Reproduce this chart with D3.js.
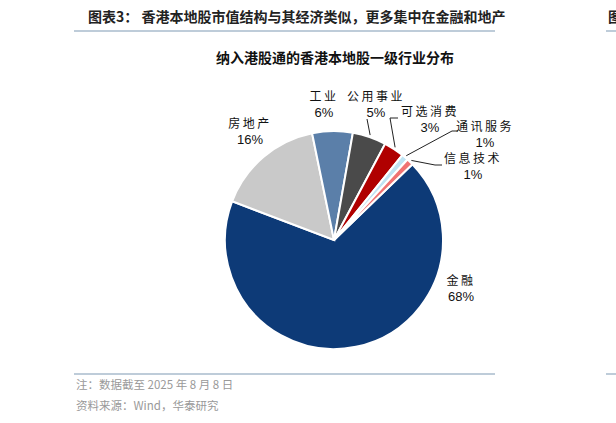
<!DOCTYPE html>
<html><head><meta charset="utf-8">
<script src="https://cdn.jsdelivr.net/npm/d3@7"></script>
<style>body{margin:0;background:#fff;font-family:"Noto Sans CJK SC",sans-serif}</style>
</head><body><svg id="c" width="616" height="423"></svg>
<script>
// data
const sectors = ['金融', '房地产', '工业', '公用事业', '可选消费', '通讯服务', '信息技术'];
const shares = [68, 16, 6, 5, 3, 1, 1];
const colors = ['#0d3a77', '#c9c9c9', '#5b7fa9', '#4a4a4a', '#b00000', '#bfe3f3', '#f07272'];

// label layout [x, y, leader elbow points]
const labelPos = [
  [461, 285, null], [250, 128, null], [324, 101, null],
  [376, 101, [367, 119]], [430, 116, [390, 118, 398, 118]],
  [485, 131, [452, 131, 458, 131]], [473, 163, [435, 165, 442, 165]]
];

const svg = d3.select('#c');
const cx = 334, cy = 240, r = 109;

// header
svg.append('text').attr('x', 88).attr('y', 22).attr('font-size', 14).attr('font-weight', 'bold')
  .attr('fill', '#222').text('图表3：  香港本地股市值结构与其经济类似，更多集中在金融和地产');
svg.append('text').attr('x', 608).attr('y', 22).attr('font-size', 14).attr('font-weight', 'bold').attr('fill', '#222').text('图');
svg.append('line').attr('x1', 74).attr('x2', 495).attr('y1', 31).attr('y2', 31).attr('stroke', '#a9bbcc').attr('stroke-width', 1.5);
svg.append('line').attr('x1', 606).attr('x2', 616).attr('y1', 31).attr('y2', 31).attr('stroke', '#a9bbcc').attr('stroke-width', 1.5);
svg.append('text').attr('x', 335).attr('y', 63).attr('text-anchor', 'middle').attr('font-size', 14).attr('font-weight', 'bold')
  .attr('fill', '#111').text('纳入港股通的香港本地股一级行业分布');

// pie
const pie = d3.pie().sort(null).startAngle(46 * Math.PI / 180).endAngle(406 * Math.PI / 180);
const arcs = pie(shares);
const arc = d3.arc().innerRadius(0).outerRadius(r);
const outer = d3.arc().innerRadius(r + 2).outerRadius(r + 2);
const g = svg.append('g').attr('transform', `translate(${cx},${cy})`);
g.selectAll('path').data(arcs).enter().append('path')
  .attr('d', arc).attr('fill', (d, i) => colors[i]).attr('stroke', '#fff').attr('stroke-width', 2);

// leaders + labels
arcs.forEach((d, i) => {
  const [lx, ly, elbow] = labelPos[i];
  if (elbow) {
    const c = outer.centroid(d);
    const pts = [[cx + c[0], cy + c[1]]];
    for (let k = 0; k < elbow.length; k += 2) pts.push([elbow[k], elbow[k + 1]]);
    svg.append('path').attr('d', d3.line()(pts)).attr('fill', 'none').attr('stroke', '#222').attr('stroke-width', 1);
  }
  const t = svg.append('text').attr('x', lx).attr('y', ly).attr('text-anchor', 'middle').attr('font-size', 12).attr('fill', '#111');
  t.append('tspan').attr('x', lx).attr('dy', 0).attr('letter-spacing', 2.5).text(sectors[i]);
  t.append('tspan').attr('x', lx).attr('dy', 16).attr('font-family', 'Liberation Sans, Arial').attr('font-size', 13).text(shares[i] + '%');
});

// footer
svg.append('line').attr('x1', 74).attr('x2', 495).attr('y1', 374).attr('y2', 374).attr('stroke', '#a9bbcc').attr('stroke-width', 1.5);
svg.append('line').attr('x1', 606).attr('x2', 616).attr('y1', 374).attr('y2', 374).attr('stroke', '#a9bbcc').attr('stroke-width', 1.5);
svg.append('text').attr('x', 76).attr('y', 389).attr('font-size', 11.5).attr('fill', '#999').text('注：数据截至 2025 年 8 月 8 日');
svg.append('text').attr('x', 76).attr('y', 410).attr('font-size', 11.5).attr('fill', '#999').text('资料来源：Wind，华泰研究');
</script></body></html>
